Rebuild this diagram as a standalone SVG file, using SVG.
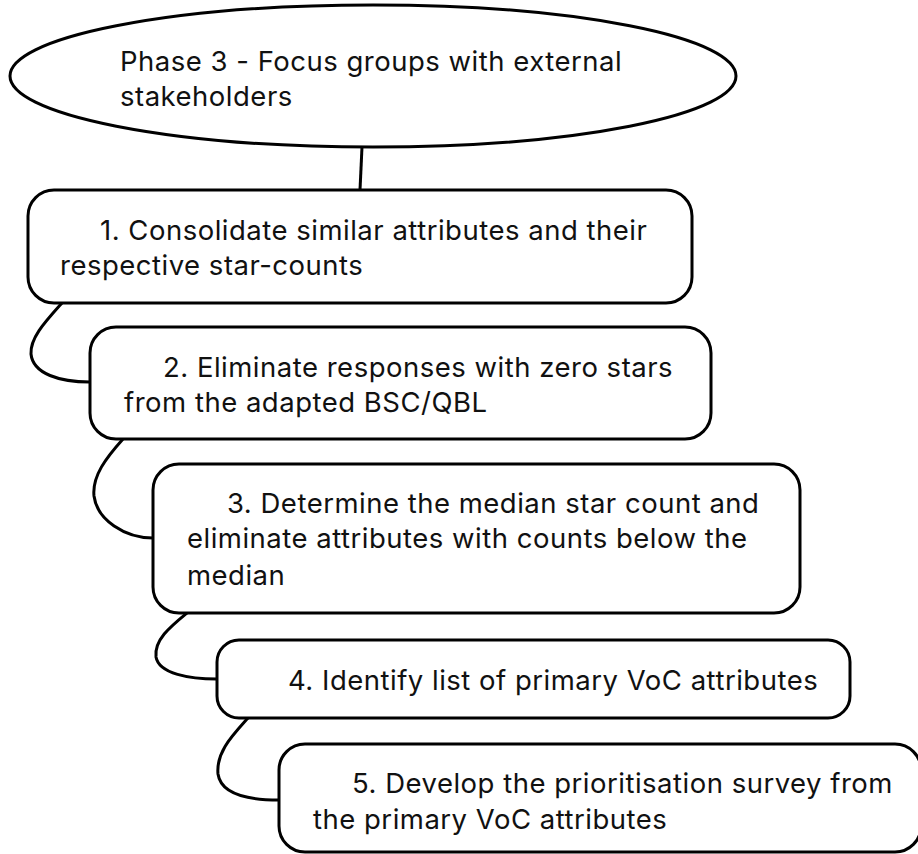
<svg xmlns="http://www.w3.org/2000/svg" width="918" height="854" viewBox="0 0 918 854">
  <style>
    .shape { fill: #ffffff; stroke: #000000; stroke-width: 3; }
    .link { fill: none; stroke: #000000; stroke-width: 3; }
    .label { font-family: Inter, "Liberation Sans", Arial, sans-serif; font-size: 27.5px; letter-spacing: 0.5px; fill: #111111; }
  </style>
  <rect x="0" y="0" width="918" height="854" fill="#ffffff"/>

  <!-- connectors -->
  <g id="connectors">
    <path class="link" d="M362,147 L360,190"/>
    <path class="link" d="M62,303 C45,322 30,338 31,354 C33,374 60,382 90,382"/>
    <path class="link" d="M123,439 C106,458 92,476 94,496 C97,520 125,538 153,538"/>
    <path class="link" d="M187,613 C170,627 154,640 156,657 C159,674 190,679 217,679"/>
    <path class="link" d="M248,718 C232,736 216,752 218,774 C221,795 250,800 279,800"/>
  </g>

  <!-- phase heading -->
  <g id="phase3">
    <ellipse class="shape" cx="373" cy="76" rx="363" ry="71"/>
    <text class="label" x="120" y="71">Phase 3 - Focus groups with external</text>
    <text class="label" x="120" y="106">stakeholders</text>
  </g>

  <g id="step1">
    <rect class="shape" x="28" y="190" width="664" height="113" rx="26"/>
    <text class="label" x="100" y="240">1. Consolidate similar attributes and their</text>
    <text class="label" x="60" y="275">respective star-counts</text>
  </g>

  <g id="step2">
    <rect class="shape" x="90" y="327" width="621" height="112" rx="26"/>
    <text class="label" x="163" y="377">2. Eliminate responses with zero stars</text>
    <text class="label" x="124" y="412">from the adapted BSC/QBL</text>
  </g>

  <g id="step3">
    <rect class="shape" x="153" y="464" width="647" height="149" rx="26"/>
    <text class="label" x="227" y="513">3. Determine the median star count and</text>
    <text class="label" x="187" y="548">eliminate attributes with counts below the</text>
    <text class="label" x="187" y="585">median</text>
  </g>

  <g id="step4">
    <rect class="shape" x="217" y="640" width="633" height="78" rx="22"/>
    <text class="label" x="288" y="690">4. Identify list of primary VoC attributes</text>
  </g>

  <g id="step5">
    <rect class="shape" x="279" y="744" width="642" height="108" rx="26"/>
    <text class="label" x="352" y="793">5. Develop the prioritisation survey from</text>
    <text class="label" x="313" y="829">the primary VoC attributes</text>
  </g>
</svg>
